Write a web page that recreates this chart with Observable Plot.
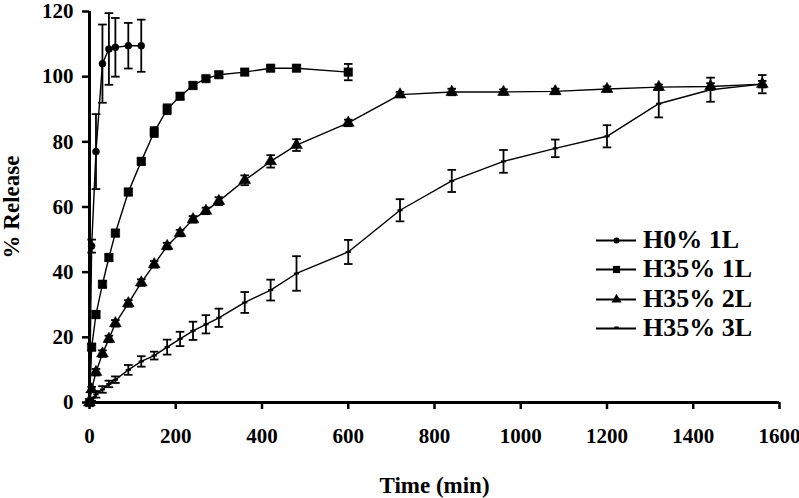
<!DOCTYPE html>
<html>
<head>
<meta charset="utf-8">
<script src="https://cdn.jsdelivr.net/npm/d3@7"></script>
<script src="https://cdn.jsdelivr.net/npm/@observablehq/plot@0.6"></script>
<style>
  html, body { margin: 0; padding: 0; background: #fff; }
  #wrap { position: relative; width: 799px; height: 498px; font-family: "Liberation Serif", "Times New Roman", serif; }
  #wrap > svg text { font-size: 21px; font-weight: bold; fill: #000; }
  #wrap > svg text.axis-title { font-size: 23px; }
  #legend { position: absolute; left: 596px; top: 225px; font-weight: bold; font-size: 26px; color: #000; }
  #legend .row { height: 29.5px; display: flex; align-items: center; }
  #legend svg { margin-right: 7px; }
</style>
</head>
<body>
<div id="wrap"><div id="legend"></div></div>
<script>
// ---- data ----
const seriesNames = ["H0% 1L", "H35% 1L", "H35% 2L", "H35% 3L"];

const timesH0 = [0, 5, 15, 30, 45, 60, 90, 120];
const relH0   = [0, 48, 77, 104, 108.5, 109, 109.5, 109.5];
const errH0   = [0, 2, 11.5, 12, 11, 9, 7, 8];

const times1L = [0, 5, 15, 30, 45, 60, 90, 120, 150, 180, 210, 240, 270, 300, 360, 420, 480, 600];
const rel1L   = [0, 17, 27, 36.3, 44.5, 52, 64.6, 74, 83, 90, 94, 97.3, 99.4, 100.6, 101.4, 102.6, 102.6, 101.4];
const err1L   = [0, 1, 1, 1, 1, 1, 1, 1, 1.5, 1.5, 1, 1, 0.8, 0.8, 0.8, 0.8, 0.8, 2.5];

const times2L = [0, 5, 15, 30, 45, 60, 90, 120, 150, 180, 210, 240, 270, 300, 360, 420, 480, 600, 720, 840, 960, 1080, 1200, 1320, 1440, 1560];
const rel2L   = [0, 4, 9.3, 15, 19.5, 24.3, 30.4, 36.8, 42.4, 48, 52, 56.2, 58.8, 61.8, 68.2, 74, 79, 85.8, 94.5, 95.3, 95.3, 95.5, 96.2, 96.8, 97, 97.7];
const err2L   = [0, 0.8, 1, 1, 1, 1, 1, 1, 1, 1, 1, 1, 1, 1.2, 1.5, 1.9, 1.8, 1, 0.8, 1, 0.8, 0.8, 0.8, 0.8, 1, 1];

const times3L = [0, 5, 15, 30, 45, 60, 90, 120, 150, 180, 210, 240, 270, 300, 360, 420, 480, 600, 720, 840, 960, 1080, 1200, 1320, 1440, 1560];
const rel3L   = [0, 1, 2.5, 4, 5.7, 7, 10, 12.6, 14.4, 17, 19.5, 22, 24, 26, 30.7, 34.5, 39.6, 46.2, 59, 68, 74, 78, 81.7, 91.7, 96, 97.7];
const err3L   = [0, 0.5, 1, 1, 1, 1, 1.5, 1.6, 1.2, 2.3, 2.2, 2.8, 2.8, 2.8, 3.2, 3.2, 5.3, 3.7, 3.4, 3.4, 3.5, 2.7, 3.4, 4.2, 3.7, 2.8];

const xTicks = [0, 200, 400, 600, 800, 1000, 1200, 1400, 1600];
const yTicks = [0, 20, 40, 60, 80, 100, 120];
const xTitle = "Time (min)";
const yTitle = "% Release";

// ---- build table ----
function rowsOf(name, ts, vs, es) {
  return ts.map((t, i) => ({series: name, t, v: vs[i], e: es[i]}));
}
const rows = [
  ...rowsOf(seriesNames[0], timesH0, relH0, errH0),
  ...rowsOf(seriesNames[1], times1L, rel1L, err1L),
  ...rowsOf(seriesNames[2], times2L, rel2L, err2L),
  ...rowsOf(seriesNames[3], times3L, rel3L, err3L)
];
const errRows = rows.filter(d => d.e > 0);

const hline = {
  draw(ctx, size) {
    const r = Math.sqrt(size / Math.PI);
    ctx.moveTo(-r, 0);
    ctx.lineTo(r, 0);
  }
};
const markerStyle = {
  "H0% 1L":  {symbol: "circle", r: 3.5},
  "H35% 1L": {symbol: "square", r: 4.8},
  "H35% 2L": {symbol: "triangle", r: 4.4},
  "H35% 3L": {symbol: hline, r: 2.6}
};

const font = '"Liberation Serif", "Times New Roman", serif';

const markerMarks = seriesNames.map(name => {
  const st = markerStyle[name];
  const data = rows.filter(d => d.series === name);
  if (st.symbol === hline) {
    return Plot.dot(data, {x: "t", y: "v", symbol: hline, r: st.r, stroke: "black", strokeWidth: 2});
  }
  return Plot.dot(data, {x: "t", y: "v", symbol: st.symbol, r: st.r, fill: "black", stroke: "black", strokeWidth: 0.5});
});

const chart = Plot.plot({
  width: 799,
  height: 498,
  marginLeft: 89,
  marginRight: 20,
  marginTop: 11,
  marginBottom: 96,
  style: {fontFamily: font, fontWeight: "bold", fontSize: "21px", color: "#000", background: "#fff", overflow: "visible"},
  x: {domain: [0, 1600]},
  y: {domain: [0, 120]},
  marks: [
    Plot.axisX({ticks: xTicks, tickFormat: d3.format("d"), tickSize: 7, tickPadding: 19, strokeWidth: 2.5,
                label: xTitle, labelAnchor: "center", labelOffset: 90, labelArrow: "none"}),
    Plot.axisY({ticks: yTicks, tickFormat: d3.format("d"), tickSize: 7, tickPadding: 9, strokeWidth: 2.5,
                label: yTitle, labelAnchor: "center", labelOffset: 87, labelArrow: "none"}),
    Plot.ruleX(errRows, {x: "t", y1: d => d.v - d.e, y2: d => d.v + d.e, stroke: "black", strokeWidth: 1.8}),
    Plot.dot(errRows, {x: "t", y: d => d.v + d.e, symbol: hline, r: 4.3, stroke: "black", strokeWidth: 1.8}),
    Plot.dot(errRows, {x: "t", y: d => d.v - d.e, symbol: hline, r: 4.3, stroke: "black", strokeWidth: 1.8}),
    Plot.line(rows, {x: "t", y: "v", z: "series", stroke: "black", strokeWidth: 1.4}),
    ...markerMarks,
    Plot.ruleY([0], {stroke: "black", strokeWidth: 3}),
    Plot.ruleX([0], {stroke: "black", strokeWidth: 3})
  ]
});
document.getElementById("wrap").prepend(chart);
d3.select(chart).selectAll("text").filter(function() {
  const s = this.textContent.trim();
  return s === xTitle || s === yTitle;
}).classed("axis-title", true);

// ---- legend ----
const legend = document.getElementById("legend");
seriesNames.forEach(name => {
  const row = document.createElement("div");
  row.className = "row";
  const st = markerStyle[name];
  const sw = Plot.plot({
    width: 40, height: 14, margin: 0,
    x: {domain: [0, 2], axis: null}, y: {domain: [0, 1], axis: null},
    style: {background: "transparent", overflow: "visible"},
    marks: [
      Plot.ruleY([0.5], {stroke: "black", strokeWidth: 1.8}),
      st.symbol === hline
        ? Plot.dot([1], {x: d => d, y: 0.5, symbol: hline, r: 2.2, stroke: "black", strokeWidth: 2, dy: -1})
        : Plot.dot([1], {x: d => d, y: 0.5, symbol: st.symbol, r: st.r * 0.85, fill: "black"})
    ]
  });
  row.appendChild(sw);
  const span = document.createElement("span");
  span.textContent = name;
  row.appendChild(span);
  legend.appendChild(row);
});
</script>
</body>
</html>
